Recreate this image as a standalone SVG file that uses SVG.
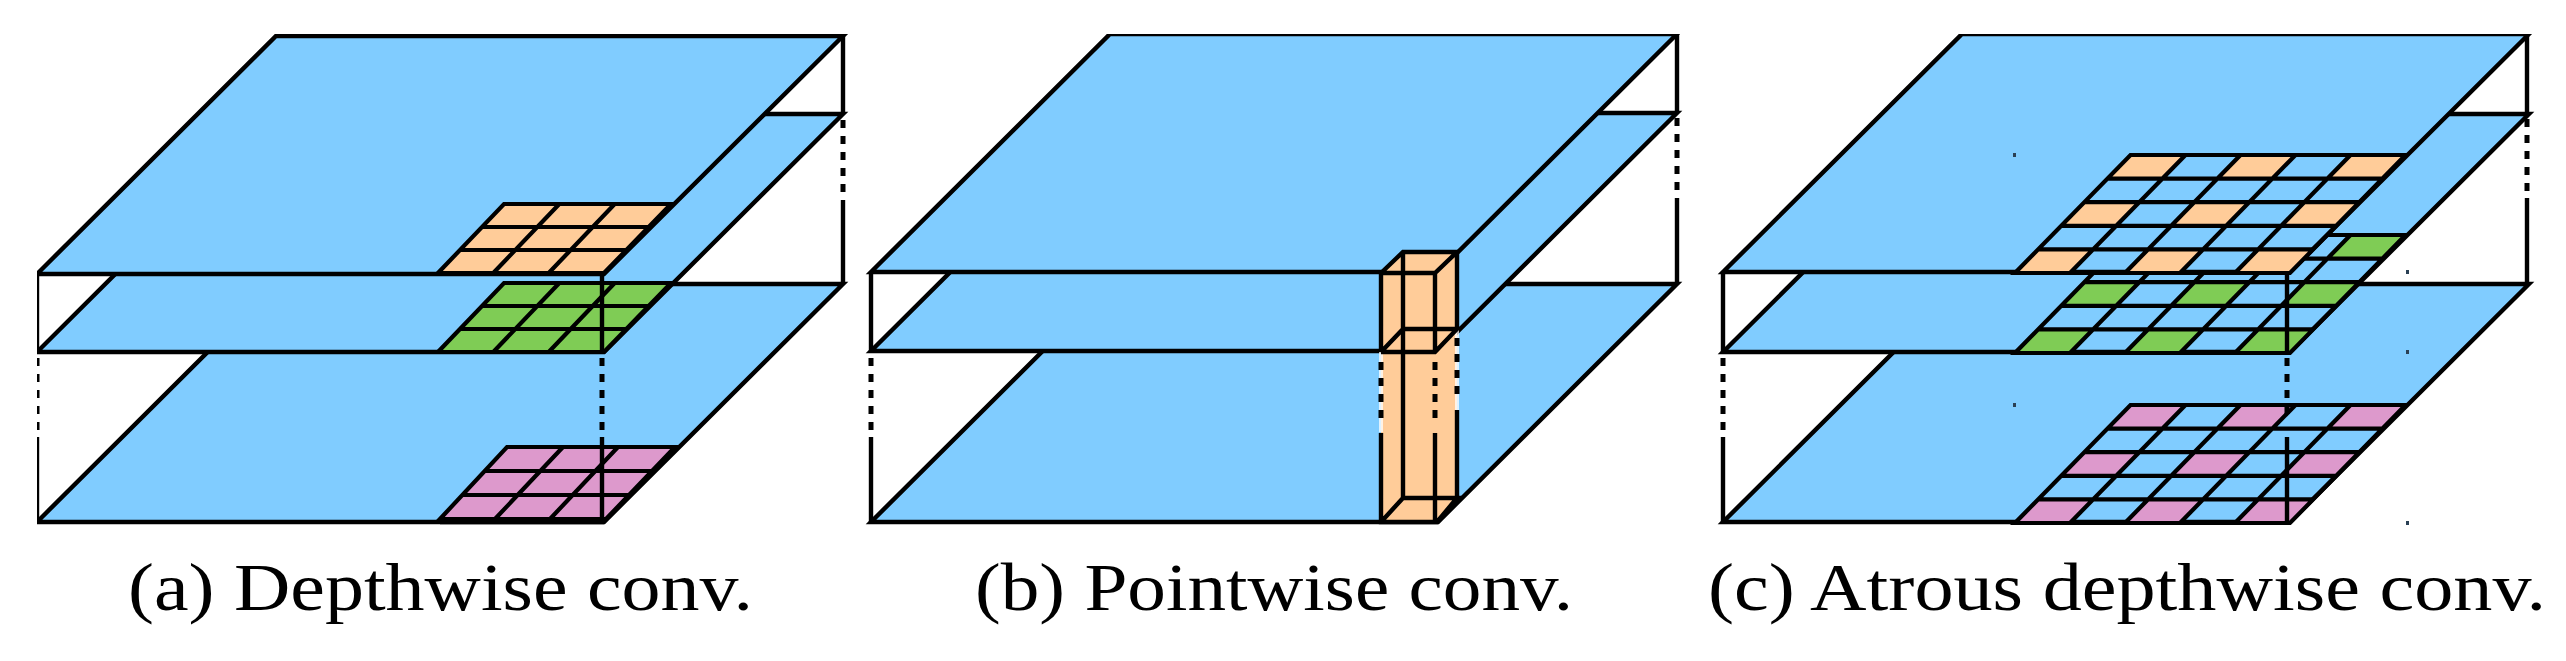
<svg xmlns="http://www.w3.org/2000/svg" xmlns:xlink="http://www.w3.org/1999/xlink" width="2566" height="661" viewBox="0 0 2566 661">
<style>
.plane{fill:#80ccff;stroke:#000;stroke-width:4.4;stroke-linejoin:miter}
.ln{fill:none;stroke:#000;stroke-width:4.4}
.dash{fill:none;stroke:#000;stroke-width:5;stroke-dasharray:8 8}
.gap{fill:none;stroke:#fff;stroke-width:4;stroke-opacity:.75}
.g{stroke:#000;stroke-width:4.2;stroke-linejoin:miter}
.l5{fill:none;stroke:#000;stroke-width:4.2}
.cap{font-family:"Liberation Serif","DejaVu Serif",serif;font-size:68px;fill:#000}
.dot{fill:#2a3f55}
</style>
<defs>
<filter id="soft" x="0" y="0" width="100%" height="100%"><feGaussianBlur stdDeviation="0.7"/></filter>
<path id="plane" class="plane" d="M239 0H806L567 238H0Z"/>
<path id="g3" class="g" d="M66 0H233L166 69H0Z M44 23H211 M22 46H189 M55.3 69L121.3 0 M110.7 69L176.7 0"/>
<g id="g5">
<path d="M115.5 0h55l-23.1 23.6h-55zM225.5 0h55l-23.1 23.6h-55zM335.5 0h55l-23.1 23.6h-55zM69.3 47.2h55l-23.1 23.6h-55zM179.3 47.2h55l-23.1 23.6h-55zM289.3 47.2h55l-23.1 23.6h-55zM23.1 94.4h55l-23.1 23.6h-55zM133.1 94.4h55l-23.1 23.6h-55zM243.1 94.4h55l-23.1 23.6h-55z"/>
<path class="l5" d="M115.5 0H390.5L275 118H0Z M92.4 23.6H367.4 M69.3 47.2H344.3 M46.2 70.8H321.2 M23.1 94.4H298.1 M55 118L170.5 0 M110 118L225.5 0 M165 118L280.5 0 M220 118L335.5 0"/>
</g>
</defs>
<rect width="2566" height="661" fill="#fff"/>
<g filter="url(#soft)">
<g id="panel-a">
<g id="a-frame"><path class="ln" d="M37 274V352M37 437V522M843 36V114M843 200V284"/><path class="dash" d="M37 358V432M843 120V194"/></g>
<g id="a-bottom"><use href="#plane" x="37" y="284"/><path class="g" fill="#dd99cc" d="M507 447H675L606 519H440Z M484 471H652 M462 495H629 M495 519L563 447 M550 519L618 447"/><path class="ln" d="M440 522H604" stroke-width="5"/></g>
<g id="a-post-low"><path class="dash" d="M602 358V432"/><path class="ln" d="M602 437V522"/></g>
<g id="a-middle"><use href="#plane" x="37" y="114"/><use href="#g3" x="438" y="283" fill="#7fcc55"/></g>
<path class="ln" d="M602 274V352"/>
<g id="a-top"><use href="#plane" x="37" y="36"/><use href="#g3" x="438" y="204" fill="#ffcc99"/></g>
<text class="cap" x="128" y="610" textLength="625" lengthAdjust="spacingAndGlyphs">(a) Depthwise conv.</text>
</g>

<g id="panel-b">
<g id="b-frame"><path class="ln" d="M871 274V352M871 437V522M1677 34V112M1677 198V284"/><path class="dash" d="M871 358V432M1677 118V192"/></g>
<g id="b-bottom"><use href="#plane" x="871" y="284"/></g>
<g id="b-middle"><use href="#plane" x="871" y="113"/></g>
<g id="b-top"><use href="#plane" x="871" y="34"/></g>
<g id="b-box">
<path fill="#ffcc99" d="M1381 273L1403 252H1457V498L1437 522H1381Z"/>
<path class="gap" d="M1381 352V432M1457 330V410"/>
<path class="ln" d="M1381 273L1403 252H1457L1435 273H1381V352M1403 252V498M1457 252V330M1435 273V352M1381 352L1403 329H1457L1435 352H1381M1381 522L1403 498H1457L1437 522H1381V433M1435 522V433M1457 498V410"/>
<path class="dash" d="M1381 362V426M1435 362V426M1457 338V402"/>
</g>
<text class="cap" x="975" y="610" textLength="598" lengthAdjust="spacingAndGlyphs">(b) Pointwise conv.</text>
</g>

<g id="panel-c">
<g id="c-frame"><path class="ln" d="M1723 274V352M1723 437V522M2527 34V113M2527 198V284"/><path class="dash" d="M1723 358V432M2527 119V192"/></g>
<g id="c-bottom"><use href="#plane" x="1723" y="284"/><use href="#g5" x="2015" y="405" fill="#dd99cc"/></g>
<g id="c-post-low"><path class="dash" d="M2287 358V420"/><path class="ln" d="M2287 437V522"/></g>
<g id="c-middle"><use href="#plane" x="1723" y="114"/><use href="#g5" x="2015" y="235" fill="#7fcc55"/></g>
<path class="ln" d="M2287 274V352"/>
<g id="c-top"><use href="#plane" x="1723" y="34"/><use href="#g5" x="2015" y="155" fill="#ffcc99"/></g>
<g id="c-dots"><rect class="dot" x="2013" y="153" width="3" height="4"/><rect class="dot" x="2013" y="403" width="3" height="4"/><rect class="dot" x="2406" y="270" width="3" height="4"/><rect class="dot" x="2406" y="350" width="3" height="4"/><rect class="dot" x="2406" y="521" width="3" height="4"/></g>
<text class="cap" x="1708" y="610" textLength="838" lengthAdjust="spacingAndGlyphs">(c) Atrous depthwise conv.</text>
</g>
</g>
</svg>
